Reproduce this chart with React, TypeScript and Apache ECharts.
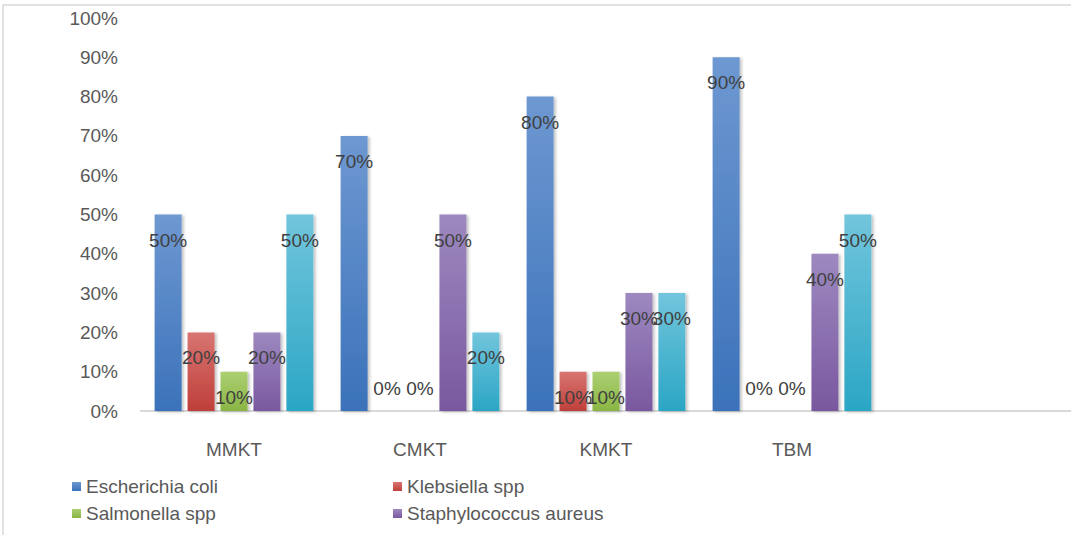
import React, { useEffect, useRef } from "react";
import * as echarts from "echarts";

const categories = ["MMKT", "CMKT", "KMKT", "TBM", ""];
const seriesNames = [
  "Escherichia coli",
  "Klebsiella spp",
  "Salmonella spp",
  "Staphylococcus aureus",
  "Series 5",
];
const ecoli = [50, 70, 80, 90];
const klebsiella = [20, 0, 10, 0];
const salmonella = [10, 0, 10, 0];
const staph = [20, 50, 30, 40];
const fifth = [50, 20, 30, 50];
const yTicks = [0, 10, 20, 30, 40, 50, 60, 70, 80, 90, 100];

const gradients: [string, string][] = [
  ["#6e98d1", "#3b72ba"],
  ["#d87572", "#bf3f3a"],
  ["#acd072", "#8ab544"],
  ["#9d89c0", "#7a589f"],
  ["#72c5dc", "#2ba6c5"],
];

export default function App() {
  const ref = useRef<HTMLDivElement>(null);
  useEffect(() => {
    if (!ref.current) return;
    const chart = echarts.init(ref.current, null, { renderer: "svg" });
    const allData = [ecoli, klebsiella, salmonella, staph, fifth];
    const series = allData.map((arr, i) => ({
      name: seriesNames[i],
      type: "bar",
      barWidth: 27,
      barGap: "22%",
      barCategoryGap: "14.5%",
      itemStyle: {
        color: new echarts.graphic.LinearGradient(0, 0, 0, 1, [
          { offset: 0, color: gradients[i][0] },
          { offset: 1, color: gradients[i][1] },
        ]),
        shadowColor: "rgba(0,0,0,0.25)",
        shadowBlur: 3,
        shadowOffsetX: 2,
        shadowOffsetY: 1,
      },
      label: {
        show: true,
        position: "insideTop",
        distance: 16,
        formatter: "{c}%",
        color: "#404040",
        fontSize: 19,
        fontFamily: "Liberation Sans",
      },
      data: arr.map((v) =>
        v === 0
          ? { value: v, label: { position: "top", distance: 13 } }
          : { value: v }
      ),
    }));
    const legendText = { color: "#595959", fontSize: 19, fontFamily: "Liberation Sans" };
    chart.setOption({
      animation: false,
      backgroundColor: "#ffffff",
      grid: { left: 141, right: 0, top: 18, bottom: 124, containLabel: false },
      graphic: [
        {
          type: "rect",
          shape: { x: 3, y: 5, width: 1200, height: 700 },
          style: { fill: "none", stroke: "#d9d9d9", lineWidth: 1.5 },
          silent: true,
          z: -1,
        },
      ],
      legend: [
        {
          data: [seriesNames[0], seriesNames[2]],
          orient: "vertical",
          left: 67,
          top: 472,
          itemWidth: 9,
          itemHeight: 9,
          itemGap: 8,
          icon: "rect",
          textStyle: legendText,
        },
        {
          data: [seriesNames[1], seriesNames[3]],
          orient: "vertical",
          left: 388,
          top: 472,
          itemWidth: 9,
          itemHeight: 9,
          itemGap: 8,
          icon: "rect",
          textStyle: legendText,
        },
      ],
      xAxis: {
        type: "category",
        data: categories,
        axisLine: { show: true, lineStyle: { color: "#d9d9d9", width: 2 } },
        axisTick: { show: false },
        axisLabel: {
          color: "#595959",
          fontSize: 19,
          margin: 29,
          fontFamily: "Liberation Sans",
        },
      },
      yAxis: {
        type: "value",
        min: yTicks[0],
        max: yTicks[yTicks.length - 1],
        interval: 10,
        axisLine: { show: false },
        axisTick: { show: false },
        splitLine: { show: false },
        axisLabel: {
          formatter: "{value}%",
          color: "#595959",
          fontSize: 19,
          margin: 23,
          fontFamily: "Liberation Sans",
        },
      },
      series,
    });
    return () => chart.dispose();
  }, []);
  return (
    <div
      ref={ref}
      style={{ position: "fixed", left: 0, top: 0, width: 1071, height: 535 }}
    />
  );
}
